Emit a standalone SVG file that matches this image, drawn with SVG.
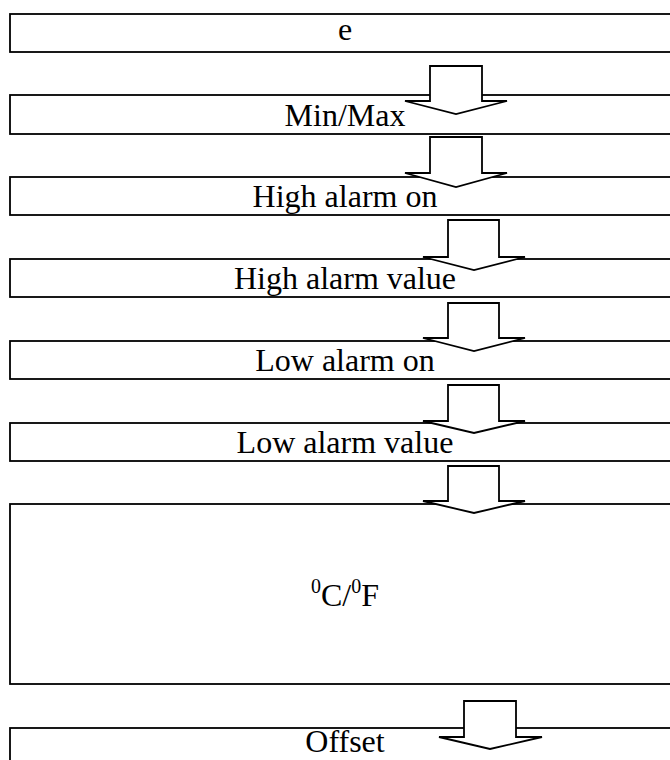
<svg xmlns="http://www.w3.org/2000/svg" width="670" height="760" viewBox="0 0 670 760">
<style>
.box{fill:#fff;stroke:#000;stroke-width:1.8}
.arr{fill:#fff;stroke:#000;stroke-width:1.8;stroke-linejoin:miter}
text{font-family:'Liberation Serif','Times New Roman','DejaVu Serif',serif;font-size:32px;fill:#000;text-anchor:middle}
</style>
<rect width="670" height="760" fill="#fff"/>
<g id="n1"><rect class="box" x="10" y="14" width="672" height="38"/><text x="345" y="40">e</text></g>
<g id="n2"><rect class="box" x="10" y="95" width="672" height="39"/><text x="345" y="126">Min/Max</text></g>
<g id="n3"><rect class="box" x="10" y="177" width="672" height="38"/><text x="345" y="207">High alarm on</text></g>
<g id="n4"><rect class="box" x="10" y="259" width="672" height="38"/><text x="345" y="289">High alarm value</text></g>
<g id="n5"><rect class="box" x="10" y="341" width="672" height="38"/><text x="345" y="371">Low alarm on</text></g>
<g id="n6"><rect class="box" x="10" y="423" width="672" height="38"/><text x="345" y="453">Low alarm value</text></g>
<g id="n7"><rect class="box" x="10" y="504" width="672" height="180"/><text x="345" y="606"><tspan font-size="20" dy="-13">0</tspan><tspan dy="13">C/</tspan><tspan font-size="20" dy="-13">0</tspan><tspan dy="13">F</tspan></text></g>
<g id="n8"><rect class="box" x="10" y="728" width="672" height="60"/><text x="345" y="752">Offset</text></g>
<g id="connectors">
<polygon class="arr" points="430,66 482,66 482,101 507,101 456,114 405,101 430,101"/>
<polygon class="arr" points="430,137 482,137 482,173 507,173 456,187 405,173 430,173"/>
<polygon class="arr" points="448,220 499,220 499,257 525,257 474,270 423,257 448,257"/>
<polygon class="arr" points="448,303 499,303 499,338 525,338 474,351 423,338 448,338"/>
<polygon class="arr" points="448,385 499,385 499,421 525,421 474,433 423,421 448,421"/>
<polygon class="arr" points="448,466 499,466 499,501 525,501 474,513 423,501 448,501"/>
<polygon class="arr" points="464,701 516,701 516,737 542,737 490,749 439,737 464,737"/>
</g>
</svg>
